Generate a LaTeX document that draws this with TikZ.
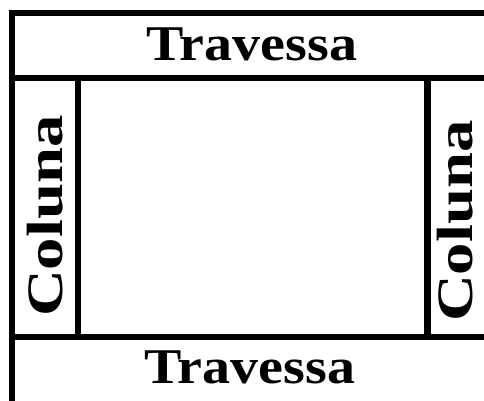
\documentclass[tikz,border=0pt]{standalone}
\usepackage{fontspec}
\setmainfont{Liberation Serif}
\begin{document}
\begin{tikzpicture}[x=1pt, y=-1pt, line width=6.5pt,
  beam/.style={font=\bfseries\fontsize{50}{50}\selectfont, inner sep=0pt, anchor=base},
  post/.style={font=\bfseries\fontsize{51}{51}\selectfont, inner sep=0pt, anchor=base, rotate=90}]
\useasboundingbox (0,0) rectangle (484,400);
\clip (0,0) rectangle (484,400);
\draw (12,430) -- (12,13) -- (520,13);
\foreach \y in {78,337} \draw (12,\y) -- (520,\y);
\foreach \x in {78,427.5} \draw (\x,78) -- (\x,337);
\node[beam] (travTop) at (252,60) {\scalebox{1.12}[1]{Travessa}};
\node[beam] (travBot) at (250,383) {\scalebox{1.12}[1]{Travessa}};
\node[post] (colLeft) at (62,216) {\scalebox{1.27}[1]{Coluna}};
\node[post] (colRight) at (472,221) {\scalebox{1.27}[1]{Coluna}};
\end{tikzpicture}
\end{document}
